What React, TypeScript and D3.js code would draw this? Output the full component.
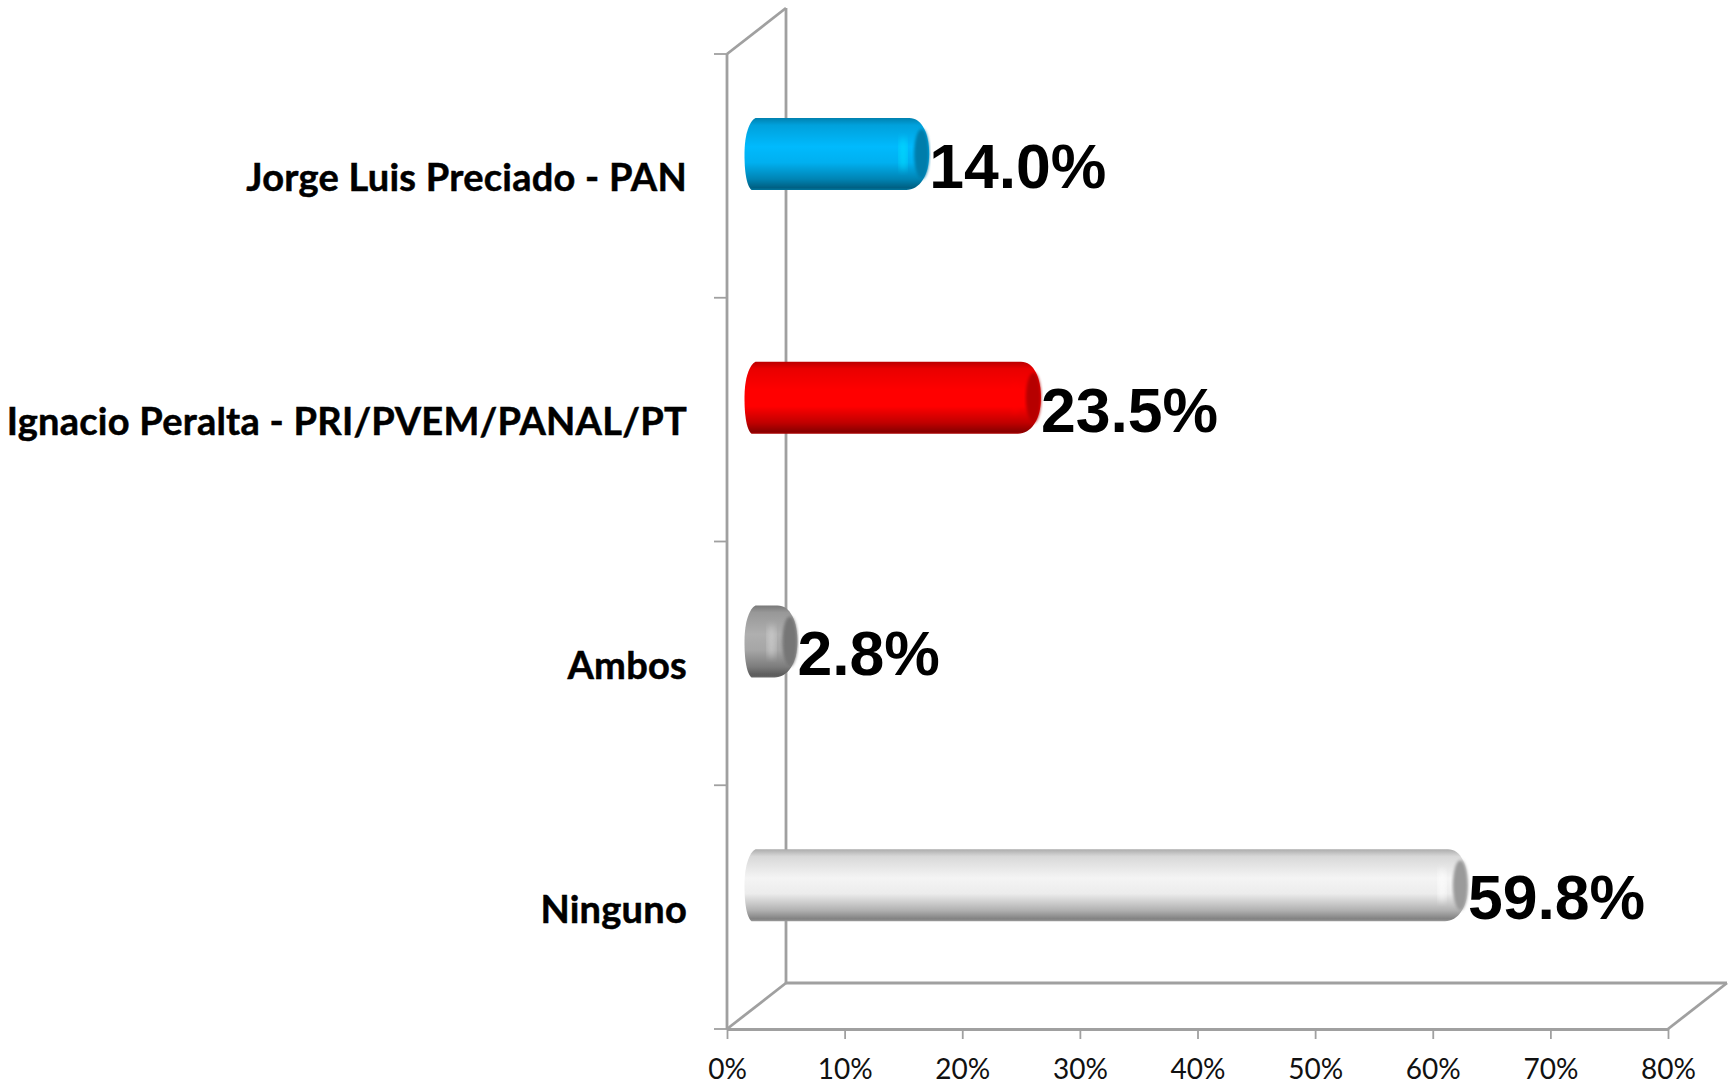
import React, { useEffect, useRef } from "react";
import * as d3 from "d3";

const categories = ["Jorge Luis Preciado - PAN", "Ignacio Peralta - PRI/PVEM/PANAL/PT", "Ambos", "Ninguno"];
const values = [14.0, 23.5, 2.8, 59.8];
const barColors = ["#00b0f0", "#ff0000", "#a6a6a6", "#ececec"];
const xTicks = [0, 10, 20, 30, 40, 50, 60, 70, 80];

const width = 1729;
const height = 1084;
const axisColor = "#a0a0a0";
const catFont = "Lato, 'Open Sans', sans-serif";

const App: React.FC = () => {
  const chartRef = useRef<SVGSVGElement | null>(null);

  useEffect(() => {
    const root = d3.select(chartRef.current);
    root.selectAll("*").remove();

    const x = d3.scaleLinear().domain([0, 80]).range([727, 1668]);
    const y = d3.scaleBand<string>().domain(categories).range([54, 1029]);
    const depthX = 59;
    const depthY = -46;
    const x0 = x(0);
    const y0 = y.range()[1];
    const yTop = y.range()[0];
    const xEnd = x(80);

    const defs = root.append("defs");
    barColors.forEach((c, i) => {
      const base = d3.color(c)!;
      const g = defs
        .append("linearGradient")
        .attr("id", `bar${i}`)
        .attr("x1", 0)
        .attr("x2", 0)
        .attr("y1", 0)
        .attr("y2", 1);
      const stops: [number, string][] = [
        [0, base.darker(0.9).formatHex()],
        [0.1, base.darker(0.25).formatHex()],
        [0.4, i === 3 ? "#f4f4f4" : base.brighter(0.15).formatHex()],
        [0.62, base.formatHex()],
        [0.85, base.darker(0.8).formatHex()],
        [0.97, base.darker(1.7).formatHex()],
        [1, base.darker(1.2).formatHex()],
      ];
      stops.forEach(([o, col]) => g.append("stop").attr("offset", o).attr("stop-color", col));
    });
    defs
      .append("filter")
      .attr("id", "soft")
      .append("feGaussianBlur")
      .attr("stdDeviation", 0.7);
    defs
      .append("filter")
      .attr("id", "softer")
      .append("feGaussianBlur")
      .attr("stdDeviation", 3);
    defs
      .append("filter")
      .attr("id", "capBlur")
      .append("feGaussianBlur")
      .attr("stdDeviation", 1.8);

    // walls of the 3d box
    const wall = root
      .append("g")
      .attr("fill", "none")
      .attr("stroke", axisColor)
      .attr("stroke-width", 2.8);
    wall.append("line").attr("x1", x0).attr("x2", x0).attr("y1", yTop).attr("y2", y0);
    wall.append("line").attr("x1", x0 + depthX).attr("x2", x0 + depthX).attr("y1", yTop + depthY).attr("y2", y0 + depthY);
    wall.append("line").attr("x1", x0).attr("x2", x0 + depthX).attr("y1", yTop).attr("y2", yTop + depthY);
    wall.append("line").attr("x1", x0).attr("x2", x0 + depthX).attr("y1", y0).attr("y2", y0 + depthY);
    wall.append("line").attr("x1", x0 + depthX).attr("x2", xEnd + depthX).attr("y1", y0 + depthY).attr("y2", y0 + depthY);
    wall.append("line").attr("x1", xEnd).attr("x2", xEnd + depthX).attr("y1", y0).attr("y2", y0 + depthY);

    // category ticks on the front wall
    const ticksLeft = [...categories.map((c) => y(c)!), y0];
    wall
      .selectAll("line.cat")
      .data(ticksLeft)
      .enter()
      .append("line")
      .attr("class", "cat")
      .attr("x1", x0 - 13)
      .attr("x2", x0)
      .attr("y1", (d) => d)
      .attr("y2", (d) => d)
      .attr("stroke-width", 1.8);

    // value axis
    const axis = root
      .append("g")
      .attr("transform", `translate(0,${y0})`)
      .call(
        d3
          .axisBottom(x)
          .tickValues(xTicks)
          .tickFormat((d) => `${d}%`)
          .tickSize(10)
          .tickSizeOuter(0)
          .tickPadding(20)
      );
    axis.selectAll(".domain").attr("stroke", axisColor).attr("stroke-width", 2.8);
    axis.selectAll(".tick line").attr("stroke", axisColor).attr("stroke-width", 1.8);
    axis
      .selectAll(".tick text")
      .attr("fill", "#111")
      .style("font-family", catFont)
      .style("font-size", "28px");

    // cylinders
    const bh = 72;
    const capR = 20;
    const barCy = (c: string) => y(c)! + y.bandwidth() / 2 + depthY / 2 + 1;
    const barStart = x0 + depthX / 2 + 8;
    const barEnd = (i: number) => x(values[i]) + depthX / 2 + 8;

    const bars = root
      .selectAll("g.bar")
      .data(categories)
      .enter()
      .append("g")
      .attr("class", "bar")
      .attr("filter", "url(#soft)");

    bars
      .append("path")
      .attr("fill", (_, i) => `url(#bar${i})`)
      .attr("d", (c, i) => {
        const cy = barCy(c);
        const end = barEnd(i);
        const t = cy - bh / 2;
        const b = cy + bh / 2;
        const p = d3.path();
        p.moveTo(barStart - 9, t);
        p.lineTo(end - capR, t);
        p.bezierCurveTo(end - 7, t, end, t + 16, end, cy);
        p.bezierCurveTo(end, b - 14, end - 10, b, end - capR - 3, b);
        p.lineTo(barStart - 13, b);
        p.bezierCurveTo(barStart - 20, b - 6, barStart - 20, cy + 6, barStart - 20, cy);
        p.bezierCurveTo(barStart - 20, t + 16, barStart - 15, t + 3, barStart - 9, t);
        p.closePath();
        return p.toString();
      });

    // end cap: the lit rim and the dark face
    bars
      .append("ellipse")
      .attr("cx", (_, i) => barEnd(i) - 26)
      .attr("cy", barCy)
      .attr("rx", 4)
      .attr("ry", 17)
      .attr("fill", (_, i) => (i === 3 ? "#ffffff" : d3.color(barColors[i])!.brighter(0.7).formatHex()))
      .attr("opacity", 0.7)
      .attr("filter", "url(#softer)");
    bars
      .append("ellipse")
      .attr("cx", (_, i) => barEnd(i) - 7.5)
      .attr("cy", barCy)
      .attr("rx", 7.5)
      .attr("ry", 25)
      .attr("fill", (_, i) => d3.color(barColors[i])!.darker(i === 3 ? 1.2 : 0.95).formatHex())
      .attr("filter", "url(#capBlur)");

    // value labels
    root
      .selectAll("text.val")
      .data(categories)
      .enter()
      .append("text")
      .attr("class", "val")
      .attr("x", (_, i) => barEnd(i))
      .attr("y", (c) => barCy(c) + 34)
      .attr("font-family", "'Liberation Sans', Arial, sans-serif")
      .attr("font-weight", 700)
      .attr("font-size", 62.5)
      .attr("fill", "#000")
      .text((_, i) => `${values[i].toFixed(1)}%`);

    // category labels
    root
      .selectAll("text.cat")
      .data(categories)
      .enter()
      .append("text")
      .attr("class", "cat")
      .attr("x", 687)
      .attr("y", (c) => y(c)! + y.bandwidth() / 2 + 15.5)
      .attr("text-anchor", "end")
      .attr("font-family", catFont)
      .attr("font-weight", 700)
      .attr("font-size", 38)
      .attr("letter-spacing", 0.25)
      .attr("fill", "#000")
      .attr("stroke", "#000")
      .attr("stroke-width", 0.5)
      .text((c) => c);
  }, []);

  return (
    <svg
      ref={chartRef}
      width={width}
      height={height}
      style={{ position: "absolute", left: 0, top: 0, background: "#fff" }}
    />
  );
};

export default App;
